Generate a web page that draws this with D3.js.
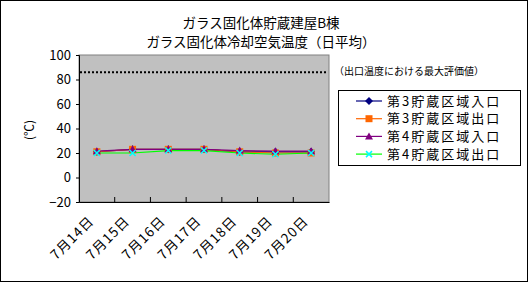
<!DOCTYPE html>
<html lang="ja">
<head>
<meta charset="utf-8">
<script src="https://cdn.jsdelivr.net/npm/d3@7"></script>
<style>
  body { margin: 0; }
  text { font-family: "Noto Sans CJK JP", sans-serif; }
</style>
</head>
<body>
<script>
// data
var days = ["7月14日", "7月15日", "7月16日", "7月17日", "7月18日", "7月19日", "7月20日"];
var in3 = [21, 23, 23, 23, 21, 21, 21];
var out3 = [21, 23, 23, 23, 21, 20, 20];
var in4 = [21.5, 23, 23, 23, 22, 21.5, 21.5];
var out4 = [20, 20, 22, 22, 20, 19, 20];
var names = ["第3貯蔵区域入口", "第3貯蔵区域出口", "第4貯蔵区域入口", "第4貯蔵区域出口"];
var limit = 86;
var yTicks = [-20, 0, 20, 40, 60, 80, 100];

var w = 528, h = 282;
var svg = d3.select("body").append("svg").attr("width", w).attr("height", h);

svg.append("rect").attr("x", 0.5).attr("y", 0.5).attr("width", w - 1).attr("height", h - 1)
  .attr("fill", "#fff").attr("stroke", "#000");

var x = d3.scaleBand().domain(days).range([79, 329]);
var y = d3.scaleLinear().domain([-20, 100]).range([202, 55]);

// plot area
svg.append("rect").attr("x", 79).attr("y", 55).attr("width", 250).attr("height", 147)
  .attr("fill", "#c0c0c0").attr("stroke", "#808080");

// title
svg.append("text").attr("x", 261).attr("y", 28).attr("text-anchor", "middle")
  .attr("font-size", "13.5px").text("ガラス固化体貯蔵建屋B棟");
svg.append("text").attr("x", 261).attr("y", 47).attr("text-anchor", "middle")
  .attr("font-size", "13.5px").text("ガラス固化体冷却空気温度（日平均）");

// axes
var yAxis = d3.axisLeft(y).tickValues(yTicks).tickSize(3).tickFormat(function(d) { return d < 0 ? "−" + (-d) : d; });
var gy = svg.append("g").attr("transform", "translate(79,0)").call(yAxis);
gy.selectAll("text").attr("font-size", "13px").attr("font-family", "Arial, 'Liberation Sans', sans-serif").attr("x", -8);

var xAxis = d3.axisBottom(x).tickSize(0).tickFormat("");
var gx = svg.append("g").attr("transform", "translate(0,202)").call(xAxis);
gx.select(".domain").attr("stroke", "#000");
gy.select(".domain").attr("stroke", "#000");

// inner x ticks at category boundaries
svg.selectAll(".xt").data(days.slice(1)).enter().append("line")
  .attr("x1", function(d) { return x(d); }).attr("x2", function(d) { return x(d); })
  .attr("y1", 202).attr("y2", 197).attr("stroke", "#000");

svg.selectAll(".xl").data(days).enter().append("text")
  .attr("font-size", "13.5px").attr("letter-spacing", "1px").attr("text-anchor", "end")
  .attr("transform", function(d) {
    return "translate(" + (x(d) + x.bandwidth() / 2 - 2) + ",222) rotate(-45)";
  })
  .text(function(d) { return d; });

// y label
svg.append("text").attr("transform", "translate(34,130) rotate(-90)")
  .attr("text-anchor", "middle").attr("font-size", "12px").text("(℃)");

// limit line
svg.append("line").attr("x1", 80).attr("x2", 328).attr("y1", y(limit)).attr("y2", y(limit))
  .attr("stroke", "#000").attr("stroke-width", 2).attr("stroke-dasharray", "2,2");
svg.append("text").attr("x", 334).attr("y", 75).attr("font-size", "10px")
  .text("（出口温度における最大評価値）");

var series = [
  { vals: in3, color: "#000080", mcolor: "#000080", shape: "diamond" },
  { vals: out3, color: "#ff6600", mcolor: "#ff6600", shape: "square" },
  { vals: in4, color: "#800080", mcolor: "#800080", shape: "triangle" },
  { vals: out4, color: "#00ff00", mcolor: "#00ffff", shape: "x" }
];

function marker(g, s, cx, cy) {
  if (s.shape === "diamond") {
    g.append("path").attr("d", "M" + cx + "," + (cy - 4) + "L" + (cx + 4) + "," + cy + "L" + cx + "," + (cy + 4) + "L" + (cx - 4) + "," + cy + "Z").attr("fill", s.mcolor);
  } else if (s.shape === "square") {
    g.append("rect").attr("x", cx - 3.5).attr("y", cy - 3.5).attr("width", 7).attr("height", 7).attr("fill", s.mcolor);
  } else if (s.shape === "triangle") {
    g.append("path").attr("d", "M" + cx + "," + (cy - 4) + "L" + (cx + 4) + "," + (cy + 3) + "L" + (cx - 4) + "," + (cy + 3) + "Z").attr("fill", s.mcolor);
  } else {
    g.append("path").attr("d", "M" + (cx - 3) + "," + (cy - 3) + "L" + (cx + 3) + "," + (cy + 3) + "M" + (cx + 3) + "," + (cy - 3) + "L" + (cx - 3) + "," + (cy + 3))
      .attr("stroke", s.mcolor).attr("stroke-width", 1.5);
  }
}

var line = d3.line()
  .x(function(d, i) { return x(days[i]) + x.bandwidth() / 2; })
  .y(function(d) { return y(d); });

series.forEach(function(s) {
  svg.append("path").datum(s.vals).attr("d", line).attr("fill", "none")
    .attr("stroke", s.color).attr("stroke-width", 1.2);
});
series.forEach(function(s) {
  var g = svg.append("g");
  s.vals.forEach(function(v, i) {
    marker(g, s, x(days[i]) + x.bandwidth() / 2, y(v));
  });
});

// legend
svg.append("rect").attr("x", 338.5).attr("y", 90.5).attr("width", 182).attr("height", 75)
  .attr("fill", "#fff").attr("stroke", "#000");
series.forEach(function(s, i) {
  var ly = 101 + i * 17.7;
  svg.append("line").attr("x1", 356).attr("x2", 382).attr("y1", ly).attr("y2", ly)
    .attr("stroke", s.color).attr("stroke-width", 1.2);
  marker(svg.append("g"), s, 369, ly);
  svg.append("text").attr("x", 387).attr("y", ly + 4.5).attr("font-size", "13px")
    .attr("letter-spacing", "2px").text(names[i]);
});
</script>
</body>
</html>
